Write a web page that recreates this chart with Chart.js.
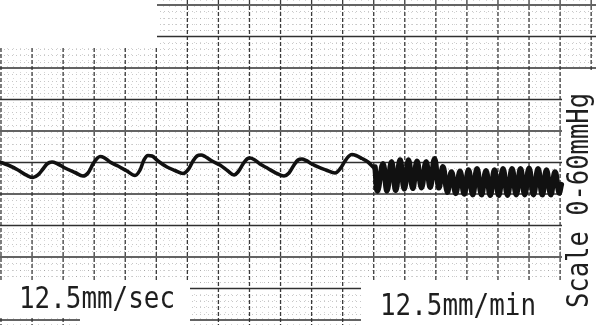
<!DOCTYPE html>
<html><head><meta charset="utf-8">
<script src="https://cdn.jsdelivr.net/npm/chart.js@4"></script>
<style>html,body{margin:0;padding:0;background:#fff;overflow:hidden}canvas{display:block}</style>
</head><body>
<canvas id="c" width="596" height="325"></canvas>
<script>
// Paper coordinates in mm: x along the paper, y above the lowest major line
const slowX = [-0.16, 1.13, 2.74, 4.19, 5.15, 5.96, 6.76, 7.40, 8.21, 9.01, 10.30, 11.91, 13.20, 14.01, 14.81, 15.45, 15.94, 16.58, 17.55, 18.83, 20.28, 21.57, 22.38, 23.02, 23.66, 24.31, 25.27, 26.72, 28.01, 29.30, 30.10, 30.91, 31.55, 32.20, 32.84, 33.97, 35.25, 36.54, 37.51, 38.15, 38.96, 39.60, 40.08, 40.73, 41.69, 42.98, 44.27, 45.56, 46.36, 47.17, 47.81, 48.45, 49.10, 50.06, 51.03, 52.32, 53.77, 54.57, 55.38, 56.02, 56.50, 57.15, 58.11, 59.08, 59.88];
const slowY = [25.08, 24.60, 23.81, 22.94, 22.62, 23.02, 23.97, 24.76, 25.08, 24.84, 24.13, 23.41, 22.86, 23.33, 24.76, 25.63, 25.95, 25.79, 25.08, 24.44, 23.65, 22.94, 23.81, 25.40, 26.11, 26.03, 25.24, 24.29, 23.73, 23.25, 23.81, 25.24, 26.03, 26.19, 25.95, 25.24, 24.60, 23.65, 23.02, 23.49, 24.76, 25.56, 25.71, 25.48, 24.76, 24.05, 23.33, 22.86, 23.33, 24.60, 25.40, 25.56, 25.32, 24.76, 24.29, 23.81, 23.33, 23.97, 25.24, 26.03, 26.27, 26.11, 25.63, 25.08, 24.29];
const fastX = [60.21, 60.61, 61.49, 62.14, 62.86, 63.55, 64.23, 64.92, 65.60, 66.28, 66.97, 67.69, 68.42, 69.10, 69.79, 70.47, 71.15, 71.84, 72.52, 73.20, 73.89, 74.57, 75.26, 75.94, 76.63, 77.35, 78.07, 78.76, 79.44, 80.13, 80.81, 81.54, 82.26, 82.94, 83.63, 84.31, 85.00, 85.72, 86.45, 87.13, 87.81, 88.50, 89.18, 89.83, 90.2];
const fastY = [24.3, 20.5, 24.8, 20.5, 25.1, 20.6, 25.4, 20.8, 25.4, 20.9, 25.2, 21.0, 25.1, 21.1, 25.6, 21.0, 24.3, 20.3, 23.5, 20.1, 23.6, 20.0, 23.8, 19.9, 24.0, 19.9, 23.7, 19.8, 23.8, 19.8, 24.0, 19.8, 24.0, 19.9, 24.0, 19.9, 24.1, 19.9, 24.0, 19.9, 23.8, 19.9, 23.5, 20.2, 21.5];
const speedLabels = ['12.5mm/sec', '12.5mm/min'];
const scaleLabel = 'Scale 0-60mmHg';
const xRange = [-0.16, 95.78];
const yRange = [-0.79, 50.79];
const majorStep = 5;
const minorStep = 1;

const toPts = (xs, ys) => xs.map((v, i) => ({x: v, y: ys[i]}));

function seg(ctx, x1, y1, x2, y2) { ctx.beginPath(); ctx.moveTo(x1, y1); ctx.lineTo(x2, y2); ctx.stroke(); }

const paper = {
  id: 'paper',
  beforeDraw(chart) {
    const ctx = chart.ctx;
    ctx.save(); ctx.fillStyle = '#fff'; ctx.fillRect(0, 0, chart.width, chart.height); ctx.restore();
  },
  beforeDatasetsDraw(chart) {
    const {ctx, scales: {x, y}, chartArea: a} = chart;
    ctx.save();
    // minor grid
    ctx.lineWidth = 1;
    ctx.strokeStyle = 'rgba(0,0,0,0.22)';
    ctx.setLineDash([1, 3]);
    for (let v = Math.ceil(y.min); v <= y.max; v += minorStep) {
      if (v % majorStep === 0) continue;
      const p = Math.round(y.getPixelForValue(v)) + 0.5;
      seg(ctx, a.left, p, a.right, p);
    }
    ctx.strokeStyle = 'rgba(0,0,0,0.16)';
    ctx.setLineDash([1, 5]);
    for (let v = Math.ceil(x.min); v <= x.max; v += minorStep) {
      if (v % majorStep === 0) continue;
      const p = Math.round(x.getPixelForValue(v)) + 0.5;
      seg(ctx, p, a.top, p, a.bottom);
    }
    // major grid
    ctx.setLineDash([4, 2]);
    ctx.lineWidth = 1.3;
    ctx.strokeStyle = '#3a3a3a';
    for (let v = 0; v <= x.max; v += majorStep) {
      const p = x.getPixelForValue(v);
      seg(ctx, p, a.top, p, a.bottom);
    }
    ctx.setLineDash([]);
    ctx.lineWidth = 1.4;
    ctx.strokeStyle = '#303030';
    for (let v = 0; v <= y.max; v += majorStep) {
      const p = y.getPixelForValue(v);
      seg(ctx, a.left, p, a.right, p);
    }
    // blank patches of the paper
    ctx.fillStyle = '#fff';
    ctx.fillRect(0, 0, 157, 46);
    ctx.fillRect(0, 280, 190, 38);
    ctx.fillRect(80, 316, 110, 9);
    ctx.fillRect(361, 280, 201, 45);
    ctx.fillRect(562, 70, 34, 255);
    ctx.restore();
  },
  afterDatasetsDraw(chart) {
    const ctx = chart.ctx;
    ctx.save();
    ctx.fillStyle = '#1e1e1e';
    ctx.font = '30px "DejaVu Sans Mono"';
    ctx.textBaseline = 'alphabetic';
    ctx.textAlign = 'left';
    const put = (txt, x0, base, w, rot) => {
      const m = ctx.measureText(txt).width;
      ctx.save();
      ctx.translate(x0, base);
      if (rot) ctx.rotate(-Math.PI / 2);
      ctx.scale(w / m, 1);
      ctx.fillText(txt, 0, 0);
      ctx.restore();
    };
    put(speedLabels[0], 19, 308, 156, false);
    put(speedLabels[1], 380, 315, 156, false);
    put(scaleLabel, 588, 308, 215, true);
    ctx.restore();
  }
};

new Chart(document.getElementById('c'), {
  type: 'line',
  data: {
    datasets: [
      {data: toPts(slowX, slowY), borderColor: '#111', borderWidth: 3.6, pointRadius: 0, cubicInterpolationMode: 'monotone', borderCapStyle: 'round', borderJoinStyle: 'round'},
      {data: toPts(fastX, fastY), borderColor: '#111', borderWidth: 5.5, pointRadius: 0, tension: 0.4, borderCapStyle: 'round', borderJoinStyle: 'round'}
    ]
  },
  options: {
    responsive: false,
    animation: false,
    devicePixelRatio: 1,
    layout: {padding: 0},
    plugins: {legend: {display: false}, tooltip: {enabled: false}},
    scales: {
      x: {type: 'linear', min: xRange[0], max: xRange[1], display: false},
      y: {type: 'linear', min: yRange[0], max: yRange[1], display: false}
    }
  },
  plugins: [paper]
});
</script>
</body></html>
